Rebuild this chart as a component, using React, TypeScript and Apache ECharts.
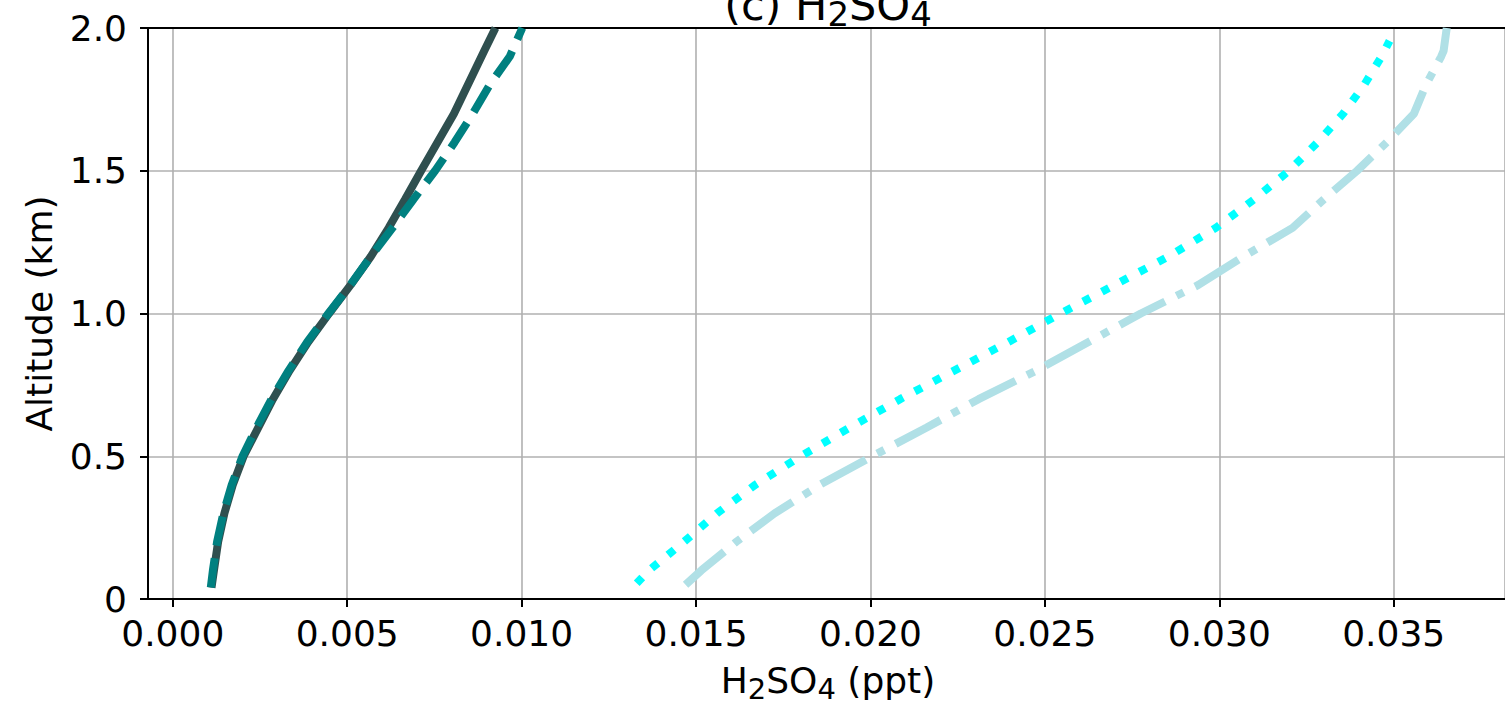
import React, { useEffect, useRef } from "react";
import * as echarts from "echarts";

// Altitude (km) levels and H2SO4 mixing ratios (ppt)
const ALT_SOLID = [0.04, 0.1, 0.2, 0.3, 0.4, 0.5, 0.6, 0.7, 0.8, 0.9, 1.0, 1.1, 1.2, 1.3, 1.4, 1.5, 1.7, 1.92, 2.0];
const VAL_SOLID = [0.00111, 0.00118, 0.0013, 0.00148, 0.00172, 0.00203, 0.00245, 0.00287, 0.00335, 0.00388, 0.00448, 0.0051, 0.00568, 0.00619, 0.00666, 0.00712, 0.00806, 0.00893, 0.00925];

const ALT_DASHED = [0.04, 0.1, 0.2, 0.3, 0.4, 0.5, 0.6, 0.7, 0.8, 0.9, 1.0, 1.1, 1.2, 1.3, 1.4, 1.5, 1.6, 1.7, 1.8, 1.9, 2.0];
const VAL_DASHED = [0.00109, 0.00115, 0.00127, 0.00145, 0.00169, 0.002, 0.0024, 0.00283, 0.00332, 0.00385, 0.00446, 0.00509, 0.00568, 0.0063, 0.0069, 0.00752, 0.00808, 0.0086, 0.00908, 0.00966, 0.01002];

const ALT_DOTTED = [0.055, 0.1, 0.2, 0.3, 0.4, 0.5, 0.6, 0.7, 0.8, 0.9, 1.0, 1.1, 1.2, 1.3, 1.4, 1.5, 1.6, 1.7, 1.8, 1.9, 1.955];
const VAL_DOTTED = [0.0133, 0.01365, 0.01465, 0.0156, 0.0167, 0.018, 0.0194, 0.02085, 0.0224, 0.02395, 0.02545, 0.027, 0.02855, 0.0299, 0.031, 0.032, 0.03282, 0.03355, 0.03415, 0.03465, 0.03488];

const ALT_DASHDOT = [0.05, 0.1, 0.2, 0.3, 0.4, 0.5, 0.6, 0.7, 0.8, 0.9, 1.0, 1.1, 1.2, 1.3, 1.4, 1.5, 1.6, 1.7, 1.8, 1.9, 1.92, 2.0];
const VAL_DASHDOT = [0.0147, 0.01515, 0.01615, 0.01725, 0.01855, 0.02005, 0.0216, 0.0231, 0.02475, 0.02625, 0.02775, 0.0294, 0.0307, 0.0321, 0.033, 0.03395, 0.0348, 0.03558, 0.03592, 0.03636, 0.03643, 0.03652];

const X_MIN = -0.00071;
const X_MAX = 0.03819;

const FONT = "DejaVu Sans";

function pairs(xs: number[], ys: number[]) {
  return xs.map((x, i) => [x, ys[i]]);
}

export default function App() {
  const ref = useRef<HTMLDivElement>(null);
  useEffect(() => {
    const chart = echarts.init(ref.current!, undefined, { renderer: "svg" });
    const lw = 8;
    const option: any = {
      animation: false,
      backgroundColor: "#ffffff",
      textStyle: { fontFamily: FONT },
      grid: { left: 148, right: 0, top: 28, bottom: 106, containLabel: false },
      graphic: [
        {
          type: "text",
          x: 828,
          y: 26,
          style: {
            text: "{n|(c) H}{s|2}{n|SO}{s|4}",
            align: "center",
            verticalAlign: "bottom",
            fill: "#000",
            rich: {
              n: { fontFamily: FONT, fontSize: 43, lineHeight: 43, verticalAlign: "top", fill: "#000" },
              s: { fontFamily: FONT, fontSize: 34, lineHeight: 34, padding: [14, 0, 0, 0], verticalAlign: "top", fill: "#000" },
            },
          },
        },
        {
          type: "text",
          x: 828,
          y: 662,
          style: {
            text: "{n|H}{s|2}{n|SO}{s|4}{n| (ppt)}",
            align: "center",
            verticalAlign: "top",
            fill: "#000",
            rich: {
              n: { fontFamily: FONT, fontSize: 36, lineHeight: 36, verticalAlign: "top", fill: "#000" },
              s: { fontFamily: FONT, fontSize: 29, lineHeight: 29, padding: [12, 0, 0, 0], verticalAlign: "top", fill: "#000" },
            },
          },
        },
      ],
      xAxis: [
        {
          type: "value",
          position: "bottom",
          min: X_MIN,
          max: X_MAX,
          splitNumber: 8,
          axisLine: { show: true, onZero: false, lineStyle: { color: "#000", width: 2 } },
          axisTick: { show: true, inside: false, length: 8, lineStyle: { color: "#000", width: 2 } },
          axisLabel: {
            show: true,
            margin: 16,
            fontFamily: FONT,
            fontSize: 36,
            color: "#000",
            showMinLabel: false,
            showMaxLabel: false,
            formatter: (v: number) => v.toFixed(3),
          },
          splitLine: { show: true, lineStyle: { color: "#b0b0b0", width: 1.6 } },
        },
        {
          type: "value",
          position: "top",
          min: X_MIN,
          max: X_MAX,
          axisLine: { show: true, onZero: false, lineStyle: { color: "#000", width: 2 } },
          axisTick: { show: false },
          axisLabel: { show: false },
          splitLine: { show: false },
        },
      ],
      yAxis: {
        type: "value",
        min: 0,
        max: 2,
        interval: 0.5,
        name: "Altitude (km)",
        nameLocation: "middle",
        nameGap: 91,
        nameTextStyle: { fontFamily: FONT, fontSize: 36, color: "#000" },
        axisLine: { show: true, onZero: false, lineStyle: { color: "#000", width: 2 } },
        axisTick: { show: true, inside: false, length: 8, lineStyle: { color: "#000", width: 2 } },
        axisLabel: {
          margin: 21,
          fontFamily: FONT,
          fontSize: 36,
          color: "#000",
          formatter: (v: number) => (v === 0 ? "0" : v.toFixed(1)),
        },
        splitLine: { show: true, lineStyle: { color: "#b0b0b0", width: 1.6 } },
      },
      series: [
        {
          type: "line",
          data: pairs(VAL_SOLID, ALT_SOLID),
          showSymbol: false,
          symbol: "none",
          lineStyle: { color: "#2F4F4F", width: lw, type: "solid" },
          z: 2,
        },
        {
          type: "line",
          data: pairs(VAL_DASHED, ALT_DASHED),
          showSymbol: false,
          symbol: "none",
          lineStyle: { color: "#008080", width: lw, type: [29.6, 12.8], cap: "butt" },
          z: 3,
        },
        {
          type: "line",
          data: pairs(VAL_DOTTED, ALT_DOTTED),
          showSymbol: false,
          symbol: "none",
          lineStyle: { color: "#00FFFF", width: lw, type: [8, 13.2], cap: "butt" },
          z: 4,
        },
        {
          type: "line",
          data: pairs(VAL_DASHDOT, ALT_DASHDOT),
          showSymbol: false,
          symbol: "none",
          lineStyle: { color: "#B0E0E6", width: lw, type: [51, 12.8, 8, 12.8], cap: "butt" },
          z: 5,
        },
      ],
    };
    chart.setOption(option);
    return () => chart.dispose();
  }, []);
  return (
    <div
      ref={ref}
      style={{ position: "absolute", left: 0, top: 0, width: 1505, height: 705, background: "#fff" }}
    />
  );
}
